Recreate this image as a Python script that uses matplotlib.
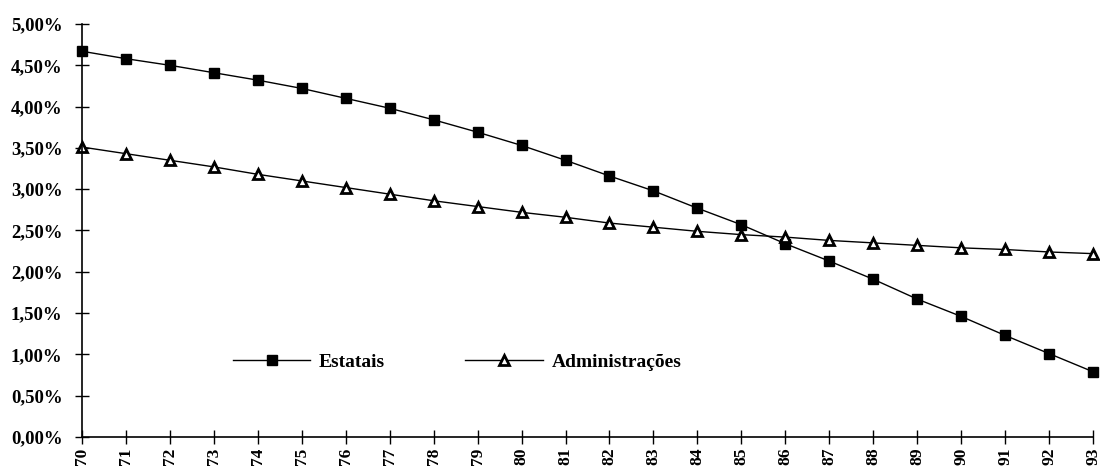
#!/usr/bin/env python3

import matplotlib
matplotlib.use('Agg')

import matplotlib.pyplot as plt
from matplotlib.ticker import FuncFormatter, MultipleLocator

plt.rcParams['font.family'] = ['Liberation Serif', 'DejaVu Serif']

YEARS = list(range(70, 94))
YEAR_LABELS = [str(y) for y in YEARS]

ESTATAIS = [4.67, 4.58, 4.50, 4.41, 4.32, 4.22, 4.10, 3.98,
            3.84, 3.69, 3.53, 3.35, 3.16, 2.98, 2.77, 2.57,
            2.34, 2.13, 1.91, 1.67, 1.46, 1.23, 1.01, 0.79]

ADMINISTRACOES = [3.51, 3.43, 3.35, 3.27, 3.18, 3.10, 3.02, 2.94,
                  2.86, 2.79, 2.72, 2.66, 2.59, 2.54, 2.49, 2.45,
                  2.42, 2.38, 2.35, 2.32, 2.29, 2.27, 2.24, 2.22]

W, H = 1100, 469
fig = plt.figure(figsize=(W / 100, H / 100), dpi=100)
ax = fig.add_axes([82 / W, (H - 437) / H, (1093 - 82) / W, (437 - 24) / H])

ax.plot(YEARS, [v / 100 for v in ESTATAIS], color='black', lw=1.0,
        marker='s', markersize=6.5, markerfacecolor='black',
        markeredgecolor='black', label='Estatais', clip_on=False)
ax.plot(YEARS, [v / 100 for v in ADMINISTRACOES], color='black', lw=1.0,
        marker='^', markersize=7, markerfacecolor='white',
        markeredgecolor='black', markeredgewidth=2.0,
        label='Administrações', clip_on=False)

ax.set_xlim(70, 93)
ax.set_ylim(0, 0.05)
ax.yaxis.set_major_locator(MultipleLocator(0.005))
ax.yaxis.set_major_formatter(
    FuncFormatter(lambda v, p: f'{v * 100:.2f}%'.replace('.', ',')))
ax.set_xticks(YEARS)
ax.set_xticklabels(YEAR_LABELS, rotation=90)

for side in ('top', 'right'):
    ax.spines[side].set_visible(False)
for side in ('left', 'bottom'):
    ax.spines[side].set_linewidth(1.2)

ax.tick_params(axis='both', direction='inout', length=10, width=1.0)
ax.tick_params(axis='y', pad=9, labelsize=13.5)
ax.tick_params(axis='x', pad=2.5, labelsize=12.5)
for lab in ax.get_xticklabels() + ax.get_yticklabels():
    lab.set_fontweight('bold')

leg = ax.legend(loc='center', bbox_to_anchor=(457 / W, 1 - 362 / H),
                bbox_transform=fig.transFigure, ncol=2, frameon=False,
                handlelength=4.0, handletextpad=0.45, columnspacing=4.1,
                prop={'size': 14, 'weight': 'bold'})

fig.savefig('out.png', dpi=100)
